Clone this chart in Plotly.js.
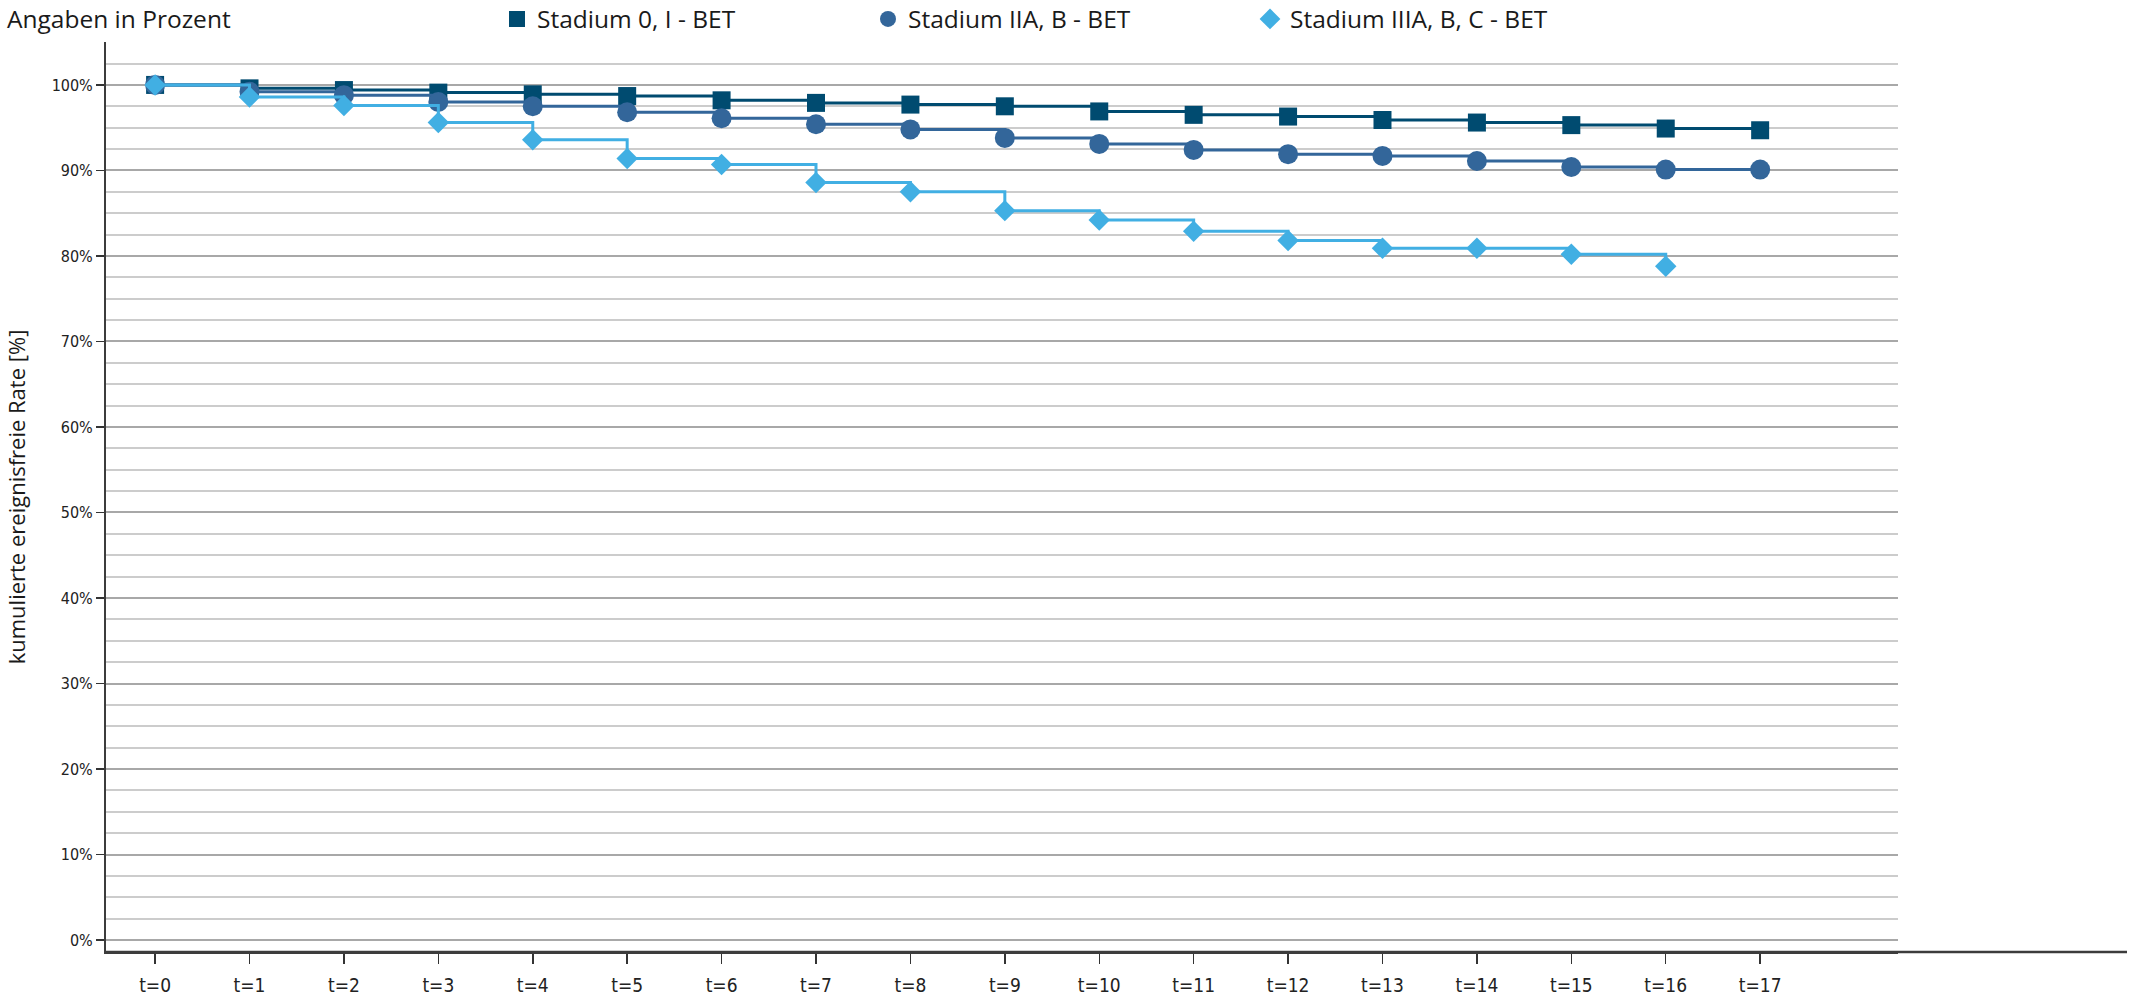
<!DOCTYPE html>
<html>
<head>
<meta charset="utf-8">
<script src="https://cdn.plot.ly/plotly-3.0.1.min.js"></script>
<style>html,body{margin:0;padding:0;background:#fff;}#chart{width:2154px;height:997px;}</style>
</head>
<body>
<div id="chart"></div>
<script>
// ---- data ----
const categories = ['t=0','t=1','t=2','t=3','t=4','t=5','t=6','t=7','t=8','t=9','t=10','t=11','t=12','t=13','t=14','t=15','t=16','t=17'];
const seriesNames = ['Stadium 0, I - BET', 'Stadium IIA, B - BET', 'Stadium IIIA, B, C - BET'];
const stadium0I   = [100, 99.6, 99.4, 99.1, 98.9, 98.7, 98.2, 97.9, 97.7, 97.5, 96.9, 96.5, 96.3, 95.9, 95.6, 95.3, 94.9, 94.7];
const stadiumIIAB = [100, 99.2, 98.8, 98.0, 97.5, 96.8, 96.1, 95.4, 94.8, 93.8, 93.1, 92.4, 91.9, 91.7, 91.1, 90.4, 90.1, 90.1];
const stadiumIIIABC = [100, 98.6, 97.6, 95.6, 93.6, 91.4, 90.7, 88.6, 87.5, 85.3, 84.2, 82.9, 81.8, 80.9, 80.9, 80.2, 78.8, null];
const yTickVals = [0,10,20,30,40,50,60,70,80,90,100];
const yTickText = ['0%','10%','20%','30%','40%','50%','60%','70%','80%','90%','100%'];
const yMidVals  = [5,15,25,35,45,55,65,75,85,95,105];

// ---- styles ----
const colors  = ['#004b70', '#33669a', '#41afe3'];
const symbols = ['square', 'circle', 'diamond'];
const sizes   = [18, 20, 16.5];
const legends = ['legend', 'legend2', 'legend3'];
const seriesData = [stadium0I, stadiumIIAB, stadiumIIIABC];

const traces = [];
seriesData.forEach((vals, i) => {
  traces.push({
    type: 'scatter', mode: 'lines', x: categories, y: vals,
    line: {shape: 'hv', color: colors[i], width: 3},
    showlegend: false, hoverinfo: 'skip', connectgaps: false
  });
  traces.push({
    type: 'scatter', mode: 'markers', x: categories, y: vals,
    name: seriesNames[i], legend: legends[i],
    marker: {symbol: symbols[i], color: colors[i], size: sizes[i], line: {width: 0}}
  });
});

const plotL = 106, plotR = 1898, plotT = 42, plotB = 952;
const W = 2154, H = 997;
const pw = plotR - plotL, ph = plotB - plotT;
const yRange = [-1.4, 105.02];
const legFont = {family: 'Open Sans, sans-serif', size: 24.5, color: '#1a1a1a'};
function legendAt(markerX) {
  return {orientation: 'h', x: (markerX - 18 - plotL) / pw, xanchor: 'left',
          y: 1 + (plotT - 19) / ph, yanchor: 'middle', font: legFont,
          bgcolor: 'rgba(0,0,0,0)', borderwidth: 0};
}

const layout = {
  width: W, height: H,
  margin: {l: plotL, r: W - plotR, t: plotT, b: H - plotB, pad: 0, autoexpand: false},
  paper_bgcolor: '#ffffff', plot_bgcolor: '#ffffff',
  title: {text: 'Angaben in Prozent', x: 7 / W, xanchor: 'left', xref: 'container',
          y: 1 - 19 / H, yanchor: 'middle', yref: 'container',
          font: {family: 'Open Sans, sans-serif', size: 24.5, color: '#1a1a1a'}},
  showlegend: true,
  legend: legendAt(515),
  legend2: legendAt(886),
  legend3: legendAt(1268),
  xaxis: {
    type: 'category', range: [-0.52, 18.46], showgrid: false, zeroline: false,
    showline: true, linecolor: '#3c3c3c', linewidth: 2,
    ticks: 'outside', ticklen: 10, tickwidth: 1.5, tickcolor: '#333',
    ticklabelstandoff: 5,
    tickfont: {family: 'DejaVu Sans Condensed, DejaVu Sans, sans-serif', size: 19, color: '#222'},
    fixedrange: true
  },
  yaxis: {
    range: yRange, tickmode: 'array', tickvals: yTickVals, ticktext: yTickText,
    ticks: 'outside', ticklen: 8, tickwidth: 1.5, tickcolor: '#333',
    showline: true, linecolor: '#3c3c3c', linewidth: 2, zeroline: false,
    showgrid: true, gridcolor: '#a8a8a8', gridwidth: 2,
    minor: {dtick: 2.5, tick0: 0, showgrid: true, gridcolor: '#cccccc', gridwidth: 2, ticks: ''},
    tickfont: {family: 'DejaVu Sans Condensed, DejaVu Sans, sans-serif', size: 16, color: '#222'},
    title: {text: 'kumulierte ereignisfreie Rate [%]', standoff: 20,
            font: {family: 'Open Sans, sans-serif', size: 22, color: '#1a1a1a'}},
    fixedrange: true
  },
  yaxis2: {
    overlaying: 'y', side: 'left', range: yRange, tickmode: 'array', tickvals: yMidVals,
    showticklabels: false, ticks: '', showline: false, zeroline: false,
    showgrid: true, gridcolor: '#a8a8a8', gridwidth: 2, fixedrange: true
  },
  shapes: [{
    type: 'line', xref: 'paper', yref: 'paper', x0: 0, x1: (2127 - plotL) / pw, y0: 0, y1: 0,
    line: {color: '#3c3c3c', width: 2.5}
  }]
};

Plotly.newPlot('chart', traces, layout, {displayModeBar: false, staticPlot: true});
</script>
</body>
</html>
